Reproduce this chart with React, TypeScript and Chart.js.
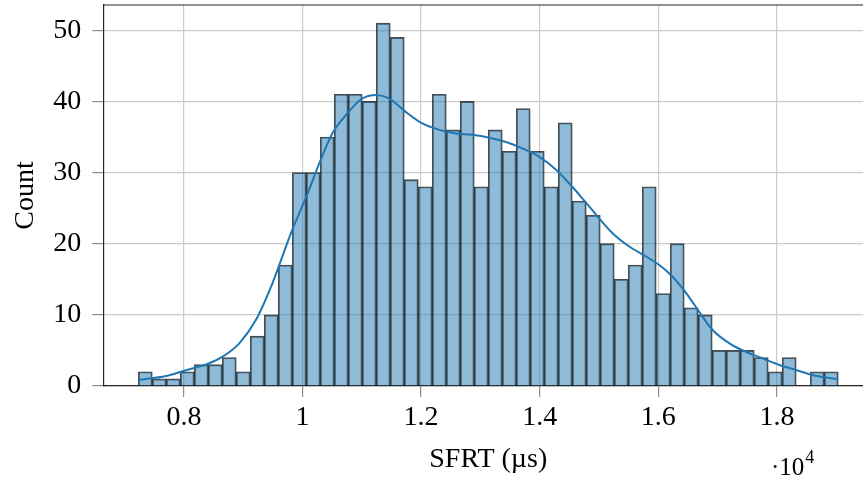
import React, { useEffect, useRef } from "react";
import { Chart, registerables } from "chart.js";

Chart.register(...registerables);

// Histogram bins (µs): regular bins starting at BIN_START, each BIN_WIDTH wide
const BIN_START = 7231;
const BIN_WIDTH = 236.06;
const COUNTS = [
  2, 1, 1, 2, 3, 3, 4, 2, 7, 10,
  17, 30, 30, 35, 41, 41, 40, 51, 49, 29,
  28, 41, 36, 40, 28, 36, 33, 39, 33, 28,
  37, 26, 24, 20, 15, 17, 28, 13, 20, 11,
  10, 5, 5, 5, 4, 2, 4, 0, 2, 2,
];

// KDE curve, x in µs, y in counts
const KDE_X = [
  7231, 7698, 8007, 8428, 8648, 8934, 9216, 9491, 9806, 10059,
  10283, 10503, 10756, 10990, 11244, 11464, 11745, 12020, 12307, 12589,
  12864, 13150, 13432, 13707, 13994, 14275, 14550, 14837, 15224, 15511,
  15793, 16017, 16237, 16467, 16692, 16911, 17198, 17479, 17754, 18041,
  18322, 18597, 19036,
];
const KDE_Y = [
  0.84, 1.4, 2.15, 3.2, 4.1, 6.0, 9.3, 14.4, 21.5, 26.5,
  31.3, 35.5, 38.3, 40.3, 40.9, 40.4, 38.5, 36.9, 36.0, 35.5,
  35.3, 34.9, 34.3, 33.4, 32.2, 30.4, 28.0, 25.2, 21.5, 19.6,
  18.2, 17.0, 15.4, 13.1, 10.4, 7.9, 6.0, 4.8, 3.9, 2.95,
  2.25, 1.55, 0.94,
];

const X_TICKS = [8000, 10000, 12000, 14000, 16000, 18000];
const Y_TICKS = [0, 10, 20, 30, 40, 50];
const X_MIN = 6641;
const X_MAX = 19624;
const Y_MAX = 53.55;

const X_TITLE = "SFRT (µs)";
const Y_TITLE = "Count";
const OFFSET_BASE = "·10";
const OFFSET_EXP = "4";

const FONT = "'Liberation Serif', 'Times New Roman', serif";

const framePlugin = {
  id: "frame",
  afterDraw(chart: any) {
    const { ctx, chartArea: a } = chart;
    ctx.save();
    ctx.strokeStyle = "#262626";
    ctx.lineWidth = 1.2;
    ctx.beginPath();
    ctx.moveTo(a.left, a.top);
    ctx.lineTo(a.right, a.top);
    ctx.lineTo(a.right, a.bottom);
    ctx.stroke();
    ctx.fillStyle = "#000";
    ctx.textBaseline = "alphabetic";
    ctx.textAlign = "left";
    ctx.font = `25px ${FONT}`;
    ctx.fillText(OFFSET_BASE, 771, 475);
    const w = ctx.measureText(OFFSET_BASE).width;
    ctx.font = `18px ${FONT}`;
    ctx.fillText(OFFSET_EXP, 771 + w + 1, 463);
    ctx.restore();
  },
};

export default function App() {
  const ref = useRef<HTMLCanvasElement | null>(null);

  useEffect(() => {
    if (!ref.current) return;
    const bars = COUNTS.map((c, i) => ({ x: BIN_START + (i + 0.5) * BIN_WIDTH, y: c })).filter(
      (p) => p.y > 0
    );
    const kde = KDE_X.map((x, i) => ({ x, y: KDE_Y[i] }));

    const chart = new Chart(ref.current, {
      type: "bar",
      data: {
        datasets: [
          {
            type: "line",
            data: kde,
            borderColor: "#1f77b4",
            borderWidth: 2,
            pointRadius: 0,
            cubicInterpolationMode: "monotone",
            fill: false,
            order: 0,
          } as any,
          {
            type: "bar",
            data: bars,
            backgroundColor: "rgba(31,119,180,0.5)",
            borderColor: "rgba(0,0,0,0.7)",
            borderWidth: 1.2,
            barPercentage: 1,
            categoryPercentage: 1,
            order: 1,
          } as any,
        ],
      },
      options: {
        responsive: false,
        animation: false,
        devicePixelRatio: 1,
        layout: { padding: { top: 5, right: 6.8, left: 0, bottom: 0 } },
        plugins: { legend: { display: false }, tooltip: { enabled: false } },
        scales: {
          x: {
            type: "linear",
            min: X_MIN,
            max: X_MAX,
            offset: false,
            afterBuildTicks: (s: any) => {
              s.ticks = X_TICKS.map((v) => ({ value: v }));
            },
            afterFit: (s: any) => {
              s.height = 93;
              s.paddingLeft = 0;
              s.paddingRight = 0;
            },
            ticks: {
              color: "#000",
              font: { family: FONT, size: 28 },
              padding: 4,
              maxRotation: 0,
              autoSkip: false,
              callback: (v: any) => String(+(Number(v) / 10000).toFixed(2)),
            },
            grid: {
              offset: false,
              color: "#cbcbcb",
              lineWidth: 1.2,
              tickColor: "#8c8c8c",
              tickLength: 11,
              tickWidth: 1.2,
            },
            border: { color: "#262626", width: 1.2 },
            title: {
              display: true,
              text: X_TITLE,
              color: "#000",
              font: { family: FONT, size: 28 },
              padding: { top: 0, bottom: 3 },
            },
          },
          y: {
            type: "linear",
            min: 0,
            max: Y_MAX,
            afterBuildTicks: (s: any) => {
              s.ticks = Y_TICKS.map((v) => ({ value: v }));
            },
            afterFit: (s: any) => {
              s.width = 103.3;
              s.paddingTop = 0;
              s.paddingBottom = 0;
            },
            ticks: {
              color: "#000",
              font: { family: FONT, size: 28 },
              padding: 11,
            },
            grid: {
              color: "#cbcbcb",
              lineWidth: 1.2,
              tickColor: "#8c8c8c",
              tickLength: 11,
              tickWidth: 1.2,
            },
            border: { color: "#262626", width: 1.2 },
            title: {
              display: true,
              text: Y_TITLE,
              color: "#000",
              font: { family: FONT, size: 28 },
              padding: { top: 9, bottom: 0 },
            },
          },
        },
      } as any,
      plugins: [framePlugin],
    });
    return () => chart.destroy();
  }, []);

  return (
    <div
      style={{
        position: "fixed",
        left: 0,
        top: 0,
        width: 863,
        height: 479,
        overflow: "hidden",
        background: "#fff",
      }}
    >
      <canvas ref={ref} width={880} height={479} style={{ width: 880, height: 479, display: "block" }} />
    </div>
  );
}
